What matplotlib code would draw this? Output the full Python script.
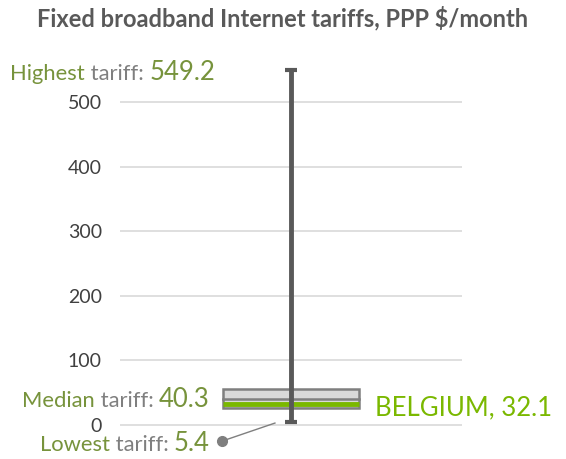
import matplotlib.pyplot as plt
from matplotlib.offsetbox import TextArea, HPacker, AnnotationBbox

plt.rcParams['font.family'] = ['Lato', 'DejaVu Sans']

# values
highest = 549.2
lowest = 5.4
median = 40.3
q1, q3 = 27.0, 55.0
belgium = 32.1
country = "BELGIUM"
yticks = [0, 100, 200, 300, 400, 500]

green = '#77933C'
bright = '#7AB800'
grey = '#7F7F7F'
dark = '#595959'

fig = plt.figure(figsize=(5.66, 4.59), dpi=100)
ax = fig.add_axes([120/566, 0.0037, 342/566, 0.8725])
ax.set_xlim(0, 1)
ax.set_ylim(-50, 570)

for t in yticks:
    ax.axhline(t, color='#D9D9D9', lw=1.2, zorder=0)
ax.set_yticks(yticks)
ax.tick_params(axis='y', length=0, pad=13, labelsize=14, labelcolor='#404040')
ax.set_xticks([])
for s in ax.spines.values():
    s.set_visible(False)

# box
ax.bar(0.5, q3 - q1, bottom=q1, width=0.4, color='#D9D9D9', edgecolor=grey, lw=1.8, zorder=2)
ax.plot([0.3, 0.7], [median, median], color=grey, lw=1.8, zorder=3)
ax.plot([0.3, 0.7], [belgium, belgium], color=bright, lw=3.5, zorder=3, solid_capstyle='butt')

# whisker
ax.plot([0.5, 0.5], [lowest, highest], color=dark, lw=3.5, zorder=4, solid_capstyle='butt')
ax.plot([0.483, 0.517], [highest, highest], color=dark, lw=3, zorder=4, solid_capstyle='butt')
ax.plot([0.483, 0.517], [lowest, lowest], color=dark, lw=3, zorder=4, solid_capstyle='butt')

# leader for lowest tariff
ax.plot([0.298, 0.453], [-25, 3], color=grey, lw=1, zorder=4, clip_on=False)
ax.plot([0.298], [-25], 'o', color=grey, ms=7, zorder=5, clip_on=False)


def label(word, value, xy, coords, box_align):
    parts = [TextArea(word, textprops=dict(color=green, size=15.8)),
             TextArea(" tariff: ", textprops=dict(color=grey, size=15.8)),
             TextArea(value, textprops=dict(color=green, size=18.5))]
    pack = HPacker(children=parts, align='baseline', pad=0, sep=0)
    ab = AnnotationBbox(pack, xy, xycoords=coords, box_alignment=box_align,
                        frameon=False, annotation_clip=False)
    ax.add_artist(ab)


label("Highest", "%.1f" % highest, (10/566, 1 - 72/459), 'figure fraction', (0, 0.5))
label("Median", "%.1f" % median, (0.263, 39), ('axes fraction', 'data'), (1, 0.5))
label("Lowest", "%.1f" % lowest, (0.263, -28), ('axes fraction', 'data'), (1, 0.5))

ax.text(0.745, 26, "%s, %.1f" % (country, belgium), color=bright, fontsize=18.5,
        va='center', ha='left', clip_on=False)

fig.text(0.5, 1 - 18/459, "Fixed broadband Internet tariffs, PPP $/month",
         ha='center', va='center', fontsize=17, fontweight='bold', color=dark)

fig.savefig('out.png', dpi=100)
